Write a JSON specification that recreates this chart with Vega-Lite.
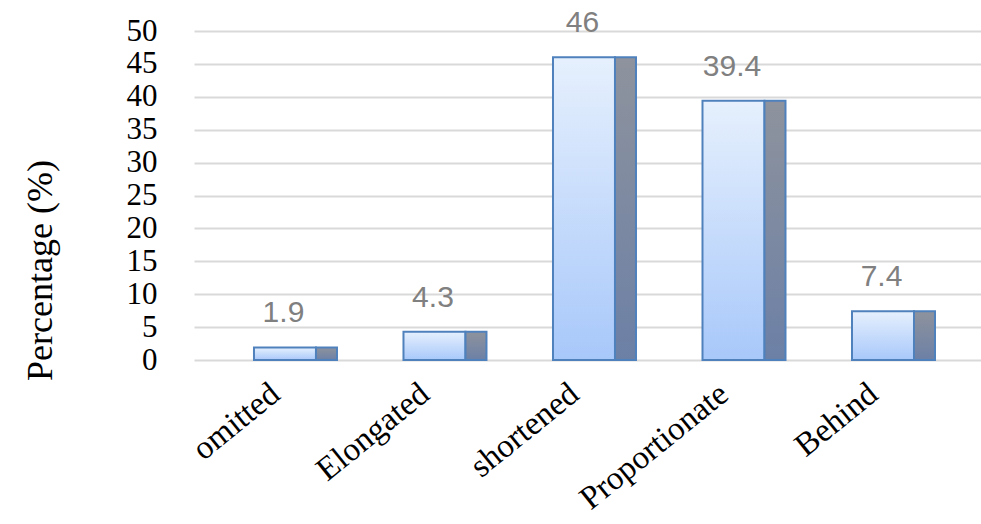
{
  "$schema": "https://vega.github.io/schema/vega-lite/v6.json",
  "autosize": "none",
  "width": 787,
  "height": 329,
  "padding": {"left": 194, "top": 31, "right": 0, "bottom": 164},
  "background": "white",
  "data": {
    "values": [
      {"category": "omitted", "value": 1.9},
      {"category": "Elongated", "value": 4.3},
      {"category": "shortened", "value": 46},
      {"category": "Proportionate", "value": 39.4},
      {"category": "Behind", "value": 7.4}
    ]
  },
  "encoding": {
    "x": {
      "field": "category",
      "type": "nominal",
      "sort": null,
      "scale": {"paddingInner": 0, "paddingOuter": 0.132, "align": 0.677},
      "axis": {
        "title": null,
        "domain": false,
        "ticks": false,
        "labelAngle": -39,
        "labelAlign": "right",
        "labelBaseline": "top",
        "labelPadding": 17,
        "labelOffset": -30,
        "labelLimit": 0,
        "labelOverlap": false,
        "labelFont": "Liberation Serif",
        "labelFontSize": 33,
        "labelColor": "#000000"
      }
    },
    "y": {
      "field": "value",
      "type": "quantitative",
      "scale": {"domain": [0, 50], "nice": false},
      "axis": {
        "title": "Percentage (%)",
        "values": [0, 5, 10, 15, 20, 25, 30, 35, 40, 45, 50],
        "domain": false,
        "ticks": false,
        "grid": true,
        "gridColor": "#d9d9d9",
        "gridWidth": 2,
        "labelOverlap": false,
        "labelBound": false,
        "labelPadding": 37,
        "labelFont": "Liberation Serif",
        "labelFontSize": 31,
        "labelColor": "#000000",
        "titleFont": "Liberation Serif",
        "titleFontSize": 36,
        "titleFontWeight": "normal",
        "titleColor": "#000000",
        "titleAngle": 270,
        "titleAlign": "center",
        "titleBaseline": "middle",
        "titleX": -154,
        "titleY": 239
      }
    }
  },
  "layer": [
    {
      "mark": {
        "type": "bar",
        "width": 62,
        "xOffset": -10.5,
        "stroke": "#4f81bd",
        "strokeWidth": 2,
        "fill": {
          "gradient": "linear",
          "x1": 0, "y1": 0, "x2": 0, "y2": 1,
          "stops": [
            {"offset": 0, "color": "#e6f0fd"},
            {"offset": 1, "color": "#a8c8fa"}
          ]
        }
      }
    },
    {
      "mark": {
        "type": "bar",
        "width": 21,
        "xOffset": 31,
        "stroke": "#4f81bd",
        "strokeWidth": 2,
        "fill": {
          "gradient": "linear",
          "x1": 0, "y1": 0, "x2": 0, "y2": 1,
          "stops": [
            {"offset": 0, "color": "#8e939d"},
            {"offset": 1, "color": "#6c80a6"}
          ]
        }
      }
    },
    {
      "mark": {
        "type": "text",
        "xOffset": -12,
        "dy": -25,
        "baseline": "alphabetic",
        "font": "Liberation Sans",
        "fontSize": 30,
        "color": "#808080"
      },
      "encoding": {
        "text": {"field": "value", "type": "quantitative"}
      }
    }
  ],
  "config": {
    "view": {"stroke": null}
  }
}
